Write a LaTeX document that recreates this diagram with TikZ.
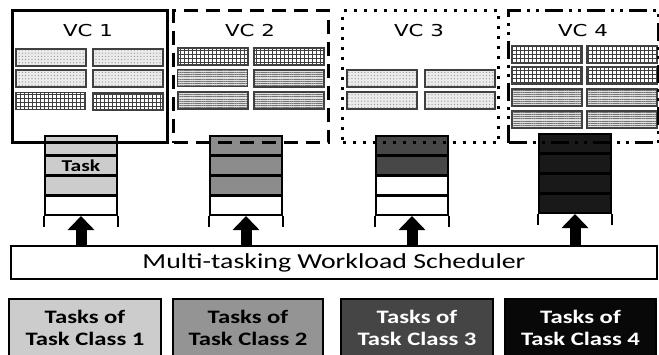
\documentclass[tikz,border=0pt]{standalone}
\usepackage{fontspec}
\setmainfont{Carlito}
\newfontfamily\vcfont{DejaVu Sans}
\usetikzlibrary{arrows.meta,patterns.meta}

\newcommand{\stretchtxt}[1]{\scalebox{1.3}[1]{#1}}

\tikzset{
  vcbox/.style={line width=1.5pt, anchor=north west, inner sep=0pt, minimum height=66pt},
  vclabel/.style={font=\vcfont\fontsize{8.2}{10}\selectfont},
  slot/.style={draw=black!75, line width=0.75pt, anchor=north west, inner sep=0pt, minimum width=35pt, minimum height=8.5pt},
  dotslot/.style={slot, preaction={fill=black!8}, pattern={Dots[distance=1.6pt, radius=0.3pt]}, pattern color=black!45},
  gridslot/.style={slot, preaction={fill=white}, pattern={Hatch[distance=2pt, line width=0.35pt]}, pattern color=black!75},
  lineslot/.style={slot, preaction={fill=black!12}, pattern={Lines[distance=1.1pt, line width=0.3pt]}, pattern color=black!55},
  qcell/.style={draw, line width=1pt, anchor=north west, inner sep=0pt, minimum width=36pt, minimum height=9.5pt},
  qside/.style={line width=1pt},
  upflow/.style={line width=5.5pt, -{Triangle[width=13pt, length=7pt]}},
  legend/.style={draw, line width=1pt, anchor=north west, inner sep=0pt, minimum height=29pt, align=center, font=\fontsize{9.5}{11}\selectfont\bfseries}
}

\begin{document}
\begin{tikzpicture}[x=0.5pt, y=-0.5pt]
    \useasboundingbox (0,0) rectangle (659,354);

    % VC 1
    \node[vclabel] (vc1name) at (88,31) {\stretchtxt{VC 1}};
    \node[dotslot] (s11) at (15,48) {};
    \node[dotslot] (s12) at (92,48) {};
    \node[dotslot] (s13) at (15,69) {};
    \node[dotslot] (s14) at (92,69) {};
    \node[gridslot] (s15) at (15,92) {};
    \node[gridslot] (s16) at (92,92) {};

    % VC 2
    \node[vclabel] (vc2name) at (250,31) {\stretchtxt{VC 2}};
    \node[gridslot] (s21) at (177,47) {};
    \node[gridslot] (s22) at (253,47) {};
    \node[lineslot] (s23) at (177,69) {};
    \node[lineslot] (s24) at (253,69) {};
    \node[lineslot] (s25) at (177,91) {};
    \node[lineslot] (s26) at (253,91) {};

    % VC 3
    \node[vclabel] (vc3name) at (419,31) {\stretchtxt{VC 3}};
    \node[dotslot] (s31) at (346,69) {};
    \node[dotslot] (s32) at (424,69) {};
    \node[dotslot] (s33) at (346,91) {};
    \node[dotslot] (s34) at (424,91) {};

    % VC 4
    \node[vclabel] (vc4name) at (583,31) {\stretchtxt{VC 4}};
    \node[gridslot] (s41) at (511,45) {};
    \node[gridslot] (s42) at (586,45) {};
    \node[gridslot] (s43) at (511,66) {};
    \node[gridslot] (s44) at (586,66) {};
    \node[lineslot] (s45) at (511,88) {};
    \node[lineslot] (s46) at (586,88) {};
    \node[lineslot] (s47) at (511,110) {};
    \node[lineslot] (s48) at (586,110) {};

    % queues
    \node[qcell, fill=black!20] (q1a) at (44,135) {};
    \node[qcell, fill=black!20, font=\fontsize{8.3}{10}\selectfont\bfseries] (q1b) at (44,155) {\stretchtxt{Task}};
    \node[qcell, fill=black!20] (q1c) at (44,175) {};
    \node[qcell, fill=white] (q1d) at (44,195) {};
    \draw[qside] (q1d.south west) -- ++(0,11);
    \draw[qside] (q1d.south east) -- ++(0,11);

    \node[qcell, fill=black!45] (q2a) at (209,135) {};
    \node[qcell, fill=black!45] (q2b) at (209,155) {};
    \node[qcell, fill=black!45] (q2c) at (209,175) {};
    \node[qcell, fill=white] (q2d) at (209,195) {};
    \draw[qside] (q2d.south west) -- ++(0,11);
    \draw[qside] (q2d.south east) -- ++(0,11);

    \node[qcell, fill=black!72] (q3a) at (375,135) {};
    \node[qcell, fill=black!72] (q3b) at (375,155) {};
    \node[qcell, fill=white] (q3c) at (375,175) {};
    \node[qcell, fill=white] (q3d) at (375,195) {};
    \draw[qside] (q3d.south west) -- ++(0,11);
    \draw[qside] (q3d.south east) -- ++(0,11);

    \node[qcell, fill=black!90] (q4a) at (538,133) {};
    \node[qcell, fill=black!90] (q4b) at (538,153) {};
    \node[qcell, fill=black!90] (q4c) at (538,173) {};
    \node[qcell, fill=black!90] (q4d) at (538,193) {};
    \draw[qside] (q4d.south west) -- ++(0,11);
    \draw[qside] (q4d.south east) -- ++(0,11);

    % VC frames
    \node[vcbox, draw, minimum width=77.5pt] (vc1) at (11,9) {};
    \node[vcbox, draw, dash pattern=on 7pt off 4pt, minimum width=77.5pt] (vc2) at (172,9) {};
    \node[vcbox, draw, dash pattern=on 1.5pt off 3.5pt, minimum width=78pt] (vc3) at (341,9) {};
    \node[vcbox, draw, dash pattern=on 9pt off 3pt on 1.5pt off 3pt on 1.5pt off 3pt, minimum width=75pt] (vc4) at (507,9) {};

    % scheduler
    \node[draw, line width=1pt, anchor=north west, inner sep=0pt, minimum width=323pt, minimum height=16.5pt, font=\fontsize{10.7}{12}\selectfont] (sched) at (10,245) {\stretchtxt{Multi-tasking Workload Scheduler}};
    \draw[upflow] (sched.north -| q1d) -- (q1d.south);
    \draw[upflow] (sched.north -| q2d) -- (q2d.south);
    \draw[upflow] (sched.north -| q3d) -- (q3d.south);
    \draw[upflow] (sched.north -| q4d) -- (q4d.south);

    % task classes
    \node[legend, fill=black!20, minimum width=76pt] (cls1) at (8,298) {\stretchtxt{Tasks of}\\\stretchtxt{Task Class 1}};
    \node[legend, fill=black!42, minimum width=75pt] (cls2) at (172,298) {\stretchtxt{Tasks of}\\\stretchtxt{Task Class 2}};
    \node[legend, fill=black!73, text=white, minimum width=76pt] (cls3) at (340,298) {\stretchtxt{Tasks of}\\\stretchtxt{Task Class 3}};
    \node[legend, fill=black!97, text=white, minimum width=75.5pt] (cls4) at (504,298) {\stretchtxt{Tasks of}\\\stretchtxt{Task Class 4}};
\end{tikzpicture}
\end{document}
